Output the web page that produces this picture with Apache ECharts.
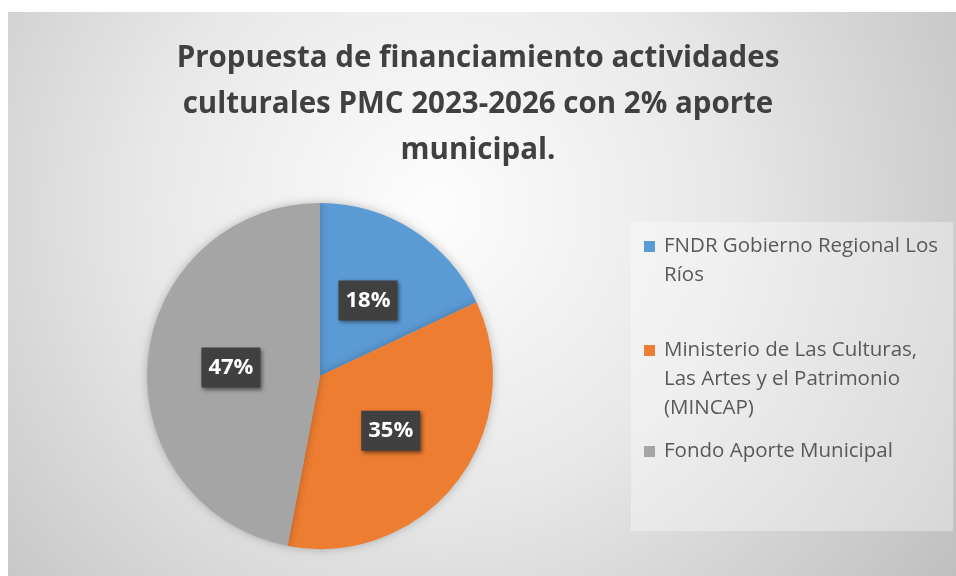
<!DOCTYPE html>
<html>
<head>
<meta charset="utf-8">
<script src="https://cdn.jsdelivr.net/npm/echarts@6/dist/echarts.min.js"></script>
<style>
html,body{margin:0;padding:0;background:#ffffff;}
#chart{width:956px;height:576px;}
</style>
</head>
<body>
<div id="chart"></div>
<script>
const titleText = 'Propuesta de financiamiento actividades\nculturales PMC 2023-2026 con 2% aporte\nmunicipal.';
const categories = [
  'FNDR Gobierno Regional Los Ríos',
  'Ministerio de Las Culturas, Las Artes y el Patrimonio (MINCAP)',
  'Fondo Aporte Municipal'
];
const legendLines = [
  ['FNDR Gobierno Regional Los', 'Ríos'],
  ['Ministerio de Las Culturas,', 'Las Artes y el Patrimonio', '(MINCAP)'],
  ['Fondo Aporte Municipal']
];
const values = [18, 35, 47];
const colors = ['#5B9BD5', '#ED7D31', '#A5A5A5'];
const legendTops = [236, 340, 441];

const chart = echarts.init(document.getElementById('chart'), null, {renderer: 'canvas'});

const rich = {
  t: {fontFamily: 'Open Sans', fontSize: 20.5, color: '#595959', lineHeight: 29, verticalAlign: 'middle'},
  g: {width: 9, height: 11, lineHeight: 29, verticalAlign: 'middle'},
  sp: {width: 20, height: 11, lineHeight: 29, verticalAlign: 'middle'}
};
colors.forEach(function (c, i) {
  rich['m' + i] = {width: 11, height: 11, backgroundColor: c, lineHeight: 29, verticalAlign: 'middle'};
});

function legendFor(i) {
  return {
    orient: 'vertical',
    left: 639,
    top: legendTops[i],
    padding: 0,
    itemGap: 0,
    itemWidth: 0,
    itemHeight: 0,
    selectedMode: false,
    data: [categories[i]],
    formatter: function (name) {
      const k0 = categories.indexOf(name);
      return legendLines[k0].map(function (l, k) {
        return (k === 0 ? '{m' + k0 + '|}{g|}' : '{sp|}') + '{t|' + l + '}';
      }).join('\n');
    },
    textStyle: {rich: rich}
  };
}

const option = {
  backgroundColor: '#ffffff',
  animation: false,
  color: colors,
  graphic: [
    {
      type: 'rect', z: -10, silent: true,
      shape: {x: 8, y: 12, width: 948, height: 564},
      style: {
        fill: new echarts.graphic.RadialGradient(0.45, 0.35, 1.13, [
          {offset: 0, color: '#fdfdfd'},
          {offset: 0.45, color: '#e8e8e8'},
          {offset: 1, color: '#bfbfbf'}
        ])
      }
    },
    {
      type: 'rect', z: -9, silent: true,
      shape: {x: 631, y: 222, width: 322, height: 309},
      style: {fill: 'rgba(255,255,255,0.35)'}
    }
  ],
  title: {
    text: titleText,
    left: 'center',
    top: 36,
    padding: [0, 6, 0, 0],
    textStyle: {
      fontFamily: 'Open Sans',
      fontWeight: 'bold',
      fontSize: 29.5,
      lineHeight: 46,
      color: '#404040'
    }
  },
  legend: [legendFor(0), legendFor(1), legendFor(2)],
  series: [{
    type: 'pie',
    center: [320, 376],
    radius: 173,
    startAngle: 90,
    clockwise: true,
    percentPrecision: 0,
    silent: true,
    itemStyle: {
      borderWidth: 0,
      shadowBlur: 10,
      shadowColor: 'rgba(0,0,0,0.25)'
    },
    label: {
      show: true,
      position: 'inside',
      formatter: '{d}%',
      fontFamily: 'Open Sans',
      fontWeight: 'bold',
      fontSize: 22,
      color: '#ffffff',
      backgroundColor: '#404040',
      padding: [7, 7, 7, 7],
      lineHeight: 26,
      shadowBlur: 4,
      shadowColor: 'rgba(0,0,0,0.5)',
      shadowOffsetX: 2,
      shadowOffsetY: 2
    },
    labelLine: {show: false},
    data: categories.map(function (n, i) {
      return {name: n, value: values[i]};
    })
  }]
};
chart.setOption(option);
</script>
</body>
</html>
